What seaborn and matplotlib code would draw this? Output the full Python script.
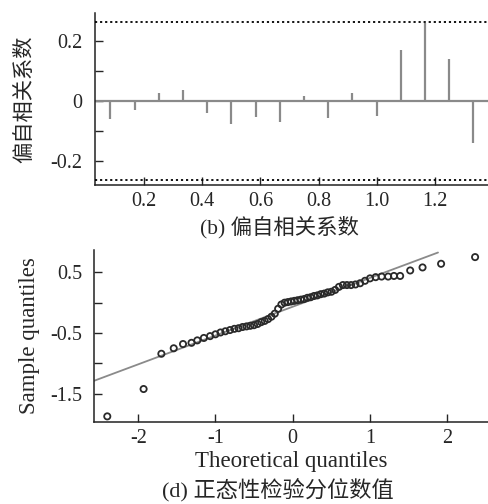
import matplotlib
matplotlib.use("Agg")
import matplotlib.pyplot as plt
import seaborn as sns
import pandas as pd

# ---- (b) partial autocorrelation ----
pacf_lags = [1/12, 2/12, 3/12, 4/12, 5/12, 6/12, 7/12, 8/12,
             9/12, 10/12, 11/12, 12/12, 13/12, 14/12, 15/12, 16/12]
pacf_values = [-0.059, -0.031, 0.027, 0.036, -0.039, -0.075, -0.054, -0.069,
               0.016, -0.057, 0.028, -0.049, 0.169, 0.260, 0.138, -0.140]
pacf_conf = 0.264
pacf_xticks = [0.2, 0.4, 0.6, 0.8, 1.0, 1.2]
pacf_xticklabels = ["0.2", "0.4", "0.6", "0.8", "1.0", "1.2"]
pacf_yticks = [-0.2, -0.1, 0.0, 0.1, 0.2]
pacf_yticklabels = ["-0.2", "", "0", "", "0.2"]

# ---- (d) normal Q-Q plot ----
qq_theoretical = [-2.40, -1.93, -1.70, -1.54, -1.42, -1.31, -1.235, -1.15, -1.07, -1.00,
                  -0.935, -0.872, -0.812, -0.755, -0.701, -0.649, -0.598, -0.549, -0.501, -0.454,
                  -0.408, -0.363, -0.319, -0.275, -0.232, -0.189, -0.147, -0.105, -0.063, -0.021,
                  0.021, 0.063, 0.105, 0.147, 0.189, 0.232, 0.275, 0.319, 0.363, 0.408,
                  0.454, 0.501, 0.549, 0.598, 0.649, 0.701, 0.755, 0.812, 0.872, 0.935,
                  1.00, 1.073, 1.15, 1.235, 1.31, 1.39, 1.52, 1.68, 1.92, 2.36]
qq_sample = [-1.87, -1.42, -0.84, -0.75, -0.68, -0.66, -0.62, -0.58, -0.55, -0.52,
             -0.49, -0.47, -0.45, -0.43, -0.42, -0.40, -0.39, -0.38, -0.37, -0.35,
             -0.32, -0.30, -0.27, -0.23, -0.18, -0.10, -0.03, 0.00, 0.01, 0.02,
             0.03, 0.04, 0.05, 0.06, 0.08, 0.09, 0.11, 0.12, 0.14, 0.15,
             0.17, 0.18, 0.21, 0.26, 0.29, 0.29, 0.29, 0.30, 0.32, 0.36,
             0.40, 0.42, 0.43, 0.43, 0.44, 0.44, 0.53, 0.58, 0.64, 0.75]
ref_slope = 0.474
ref_intercept = -0.066
ref_x_range = [-2.6, 1.88]
qq_xticks = [-2, -1, 0, 1, 2]
qq_xticklabels = ["-2", "-1", "0", "1", "2"]
qq_yticks = [-1.5, -1.0, -0.5, 0.0, 0.5]
qq_yticklabels = ["-1.5", "", "-0.5", "", "0.5"]

sns.set_style("ticks")
plt.rcParams["font.family"] = ["Liberation Serif", "Noto Sans CJK SC"]
plt.rcParams["axes.linewidth"] = 1.1
plt.rcParams["axes.edgecolor"] = "#222222"

fig = plt.figure(figsize=(4.89, 5.04), dpi=100)
cjk = ["Noto Sans CJK SC", "DejaVu Sans"]
mixed = ["Liberation Serif", "Noto Sans CJK SC"]
tick_fs = 14.5

# (b)
ax1 = fig.add_axes([0.194, 0.633, 0.806, 0.341])
bar_color = "#8a8a8a"
ax1.axhline(0, color=bar_color, lw=1.6, zorder=2)
ax1.vlines(pacf_lags, 0, pacf_values, color=bar_color, lw=1.6, zorder=2)
for c in (pacf_conf, -pacf_conf):
    ax1.axhline(c, color="black", lw=1.3, linestyle=(0, (1.2, 1.6)), zorder=3)
ax1.set_xlim(0.03, 1.387)
ax1.set_ylim(-0.279, 0.292)
ax1.set_xticks(pacf_xticks)
ax1.set_xticklabels(pacf_xticklabels)
ax1.set_yticks(pacf_yticks)
ax1.set_yticklabels(pacf_yticklabels)
ax1.tick_params(axis="both", direction="in", length=5.5, width=1.0, labelsize=tick_fs)
ax1.tick_params(axis="y", pad=9)
ax1.tick_params(axis="x", pad=5)
ax1.set_ylabel("偏自相关系数", fontfamily=cjk, fontsize=15.3, labelpad=11)
sns.despine(ax=ax1)

# (d)
ax2 = fig.add_axes([0.193, 0.163, 0.807, 0.341])
line_df = pd.DataFrame({"x": ref_x_range,
                        "y": [ref_intercept + ref_slope * v for v in ref_x_range]})
sns.lineplot(data=line_df, x="x", y="y", ax=ax2, color="#8a8a8a", lw=1.3, zorder=2)
qq_df = pd.DataFrame({"x": qq_theoretical, "y": qq_sample})
sns.scatterplot(data=qq_df, x="x", y="y", ax=ax2, marker="o", s=20,
                facecolor="none", edgecolor="#2a2a2a", linewidth=1.3, zorder=3)
ax2.set_xlim(-2.567, 2.54)
ax2.set_ylim(-1.96, 0.867)
ax2.set_xticks(qq_xticks)
ax2.set_xticklabels(qq_xticklabels)
ax2.set_yticks(qq_yticks)
ax2.set_yticklabels(qq_yticklabels)
ax2.tick_params(axis="both", direction="in", length=5.5, width=1.0, labelsize=tick_fs)
ax2.tick_params(axis="y", pad=9)
ax2.tick_params(axis="x", pad=5)
ax2.set_xlabel("Theoretical quantiles", fontsize=16.5, labelpad=2)
ax2.set_ylabel("Sample quantiles", fontsize=16.5, labelpad=7)
sns.despine(ax=ax2)

fig.text(0.571, 0.55, "(b) 偏自相关系数", ha="center", va="center",
         fontsize=15.4, fontfamily=mixed)
fig.text(0.569, 0.028, "(d) 正态性检验分位数值", ha="center", va="center",
         fontsize=16, fontfamily=mixed)

fig.savefig("out.png", dpi=100)
